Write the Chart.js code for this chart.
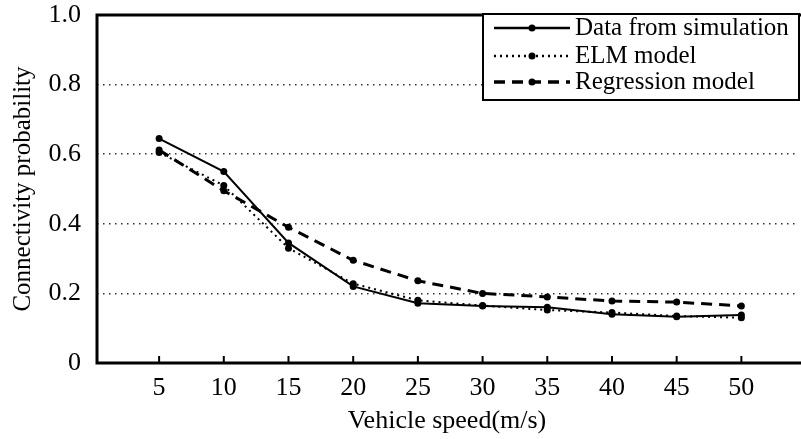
<!DOCTYPE html>
<html>
<head>
<meta charset="utf-8">
<script src="https://cdn.jsdelivr.net/npm/chart.js@4.4.1/dist/chart.umd.min.js"></script>
<style>
  html, body { margin: 0; padding: 0; background: #fff; }
  #wrap { width: 801px; height: 439px; position: relative; }
</style>
</head>
<body>
<div id="wrap"><canvas id="myChart" width="801" height="439"></canvas></div>
<script>
// vehicle speed (m/s)
var speeds = [5, 10, 15, 20, 25, 30, 35, 40, 45, 50];
var simData = [0.645, 0.55, 0.345, 0.22, 0.172, 0.164, 0.16, 0.14, 0.133, 0.138];
var elmData = [0.605, 0.51, 0.33, 0.228, 0.18, 0.165, 0.152, 0.145, 0.135, 0.13];
var regData = [0.612, 0.495, 0.39, 0.295, 0.236, 0.2, 0.19, 0.178, 0.175, 0.164];
var seriesNames = ['Data from simulation', 'ELM model', 'Regression model'];
var yTicks = [0, 0.2, 0.4, 0.6, 0.8, 1.0];
var yTickLabels = ['0', '0.2', '0.4', '0.6', '0.8', '1.0'];

var serif = "'Liberation Serif', 'Times New Roman', serif";

function pts(arr) {
    return speeds.map(function(s, i) { return { x: s, y: arr[i] }; });
}

function makeSet(label, arr, dash, width) {
    return {
        label: label,
        data: pts(arr),
        borderColor: '#000',
        backgroundColor: '#000',
        borderWidth: width,
        borderDash: dash,
        pointRadius: 3.5,
        pointBorderWidth: 0,
        pointBackgroundColor: '#000',
        tension: 0
    };
}

// frame, inner ticks and legend box
var framePlugin = {
    id: 'frame',
    afterDraw: function(chart) {
        var ctx = chart.ctx;
        var a = chart.chartArea;
        var xs = chart.scales.x;
        ctx.save();
        ctx.strokeStyle = '#000';
        ctx.lineWidth = 3;
        ctx.setLineDash([]);
        ctx.beginPath();
        ctx.moveTo(a.right + 5, a.top);
        ctx.lineTo(a.left, a.top);
        ctx.lineTo(a.left, a.bottom);
        ctx.lineTo(a.right + 5, a.bottom);
        ctx.stroke();

        ctx.lineWidth = 2;
        speeds.forEach(function(s) {
            var px = xs.getPixelForValue(s);
            ctx.beginPath();
            ctx.moveTo(px, a.bottom);
            ctx.lineTo(px, a.bottom - 7);
            ctx.stroke();
        });

        // legend
        var bx = 483, by = 14, bw = 316, bh = 86;
        ctx.fillStyle = '#fff';
        ctx.fillRect(bx, by, bw, bh);
        ctx.lineWidth = 2;
        ctx.strokeRect(bx, by, bw, bh);
        var rows = [28, 56, 82];
        chart.data.datasets.forEach(function(ds, i) {
            var y = rows[i];
            ctx.strokeStyle = '#000';
            ctx.lineWidth = ds.borderWidth + 0.5;
            ctx.setLineDash(ds.borderDash || []);
            ctx.beginPath();
            ctx.moveTo(494, y);
            ctx.lineTo(570, y);
            ctx.stroke();
            ctx.setLineDash([]);
            ctx.fillStyle = '#000';
            ctx.beginPath();
            ctx.arc(532, y, 3.5, 0, Math.PI * 2);
            ctx.fill();
            ctx.font = '25px ' + serif;
            ctx.textBaseline = 'middle';
            ctx.textAlign = 'left';
            ctx.fillText(ds.label, 575, y);
        });
        ctx.restore();
    }
};

var ctx = document.getElementById('myChart').getContext('2d');
new Chart(ctx, {
    type: 'line',
    data: {
        datasets: [
            makeSet(seriesNames[0], simData, [], 2),
            makeSet(seriesNames[1], elmData, [2, 4], 2),
            makeSet(seriesNames[2], regData, [11, 7], 3)
        ]
    },
    options: {
        responsive: false,
        animation: false,
        layout: { padding: { top: 15, right: 0, bottom: 0, left: 0 } },
        plugins: {
            legend: { display: false },
            tooltip: { enabled: false }
        },
        scales: {
            x: {
                type: 'linear',
                min: 0.2,
                max: 54.3,
                afterBuildTicks: function(axis) {
                    axis.ticks = speeds.map(function(v) { return { value: v }; });
                },
                afterFit: function(s) { s.height = 76; s.paddingLeft = 0; s.paddingRight = 0; },
                grid: { display: false, drawTicks: false },
                border: { display: false },
                ticks: {
                    color: '#000',
                    padding: 10,
                    maxRotation: 0,
                    autoSkip: false,
                    font: { family: serif, size: 26 }
                },
                title: {
                    display: true,
                    text: 'Vehicle speed(m/s)',
                    color: '#000',
                    padding: { top: 0, bottom: 2 },
                    font: { family: serif, size: 26 }
                }
            },
            y: {
                min: 0,
                max: 1,
                afterBuildTicks: function(axis) {
                    axis.ticks = yTicks.map(function(v) { return { value: v }; });
                },
                afterFit: function(s) { s.width = 97; s.paddingTop = 0; s.paddingBottom = 0; },
                grid: {
                    drawTicks: false,
                    lineWidth: 1.5,
                    color: function(c) {
                        var v = c.tick ? c.tick.value : 0;
                        return (v > 0.01 && v < 0.99) ? '#333' : 'rgba(0,0,0,0)';
                    }
                },
                border: { display: false, dash: [1.5, 4.5] },
                ticks: {
                    color: '#000',
                    padding: 16,
                    font: { family: serif, size: 26 },
                    callback: function(v, i) { return yTickLabels[i]; }
                },
                title: {
                    display: true,
                    text: 'Connectivity probability',
                    color: '#000',
                    padding: { top: 8, bottom: 0 },
                    font: { family: serif, size: 25 }
                }
            }
        }
    },
    plugins: [framePlugin]
});
</script>
</body>
</html>
